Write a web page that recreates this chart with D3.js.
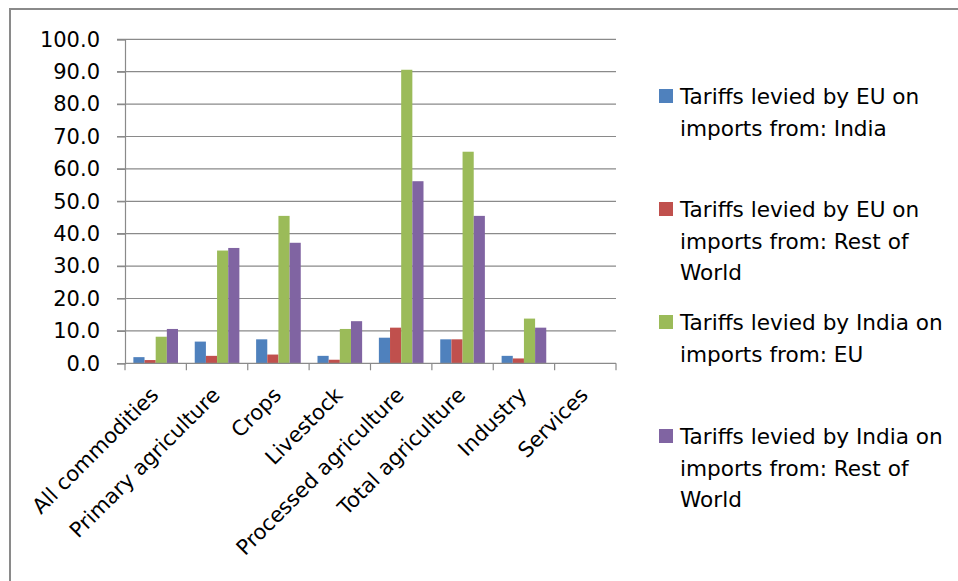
<!DOCTYPE html>
<html>
<head>
<meta charset="utf-8">
<script src="https://cdn.jsdelivr.net/npm/d3@7"></script>
<style>
  html, body { margin: 0; padding: 0; background: #fff; }
  svg { display: block; }
  text { font-family: "DejaVu Sans", sans-serif; fill: #000; }
</style>
</head>
<body>
<svg id="chart" width="958" height="581"></svg>
<script>
// Average tariffs by commodity group (%)
const categories = [
  "All commodities", "Primary agriculture", "Crops", "Livestock",
  "Processed agriculture", "Total agriculture", "Industry", "Services"
];
const seriesNames = [
  "Tariffs levied by EU on imports from: India",
  "Tariffs levied by EU on imports from: Rest of World",
  "Tariffs levied by India on imports from: EU",
  "Tariffs levied by India on imports from: Rest of World"
];
const euOnIndia   = [1.9, 6.7, 7.4, 2.3, 7.9, 7.4, 2.3, 0];
const euOnRoW     = [1.0, 2.3, 2.7, 1.1, 11.0, 7.4, 1.5, 0];
const indiaOnEU   = [8.2, 34.8, 45.5, 10.6, 90.6, 65.3, 13.8, 0];
const indiaOnRoW  = [10.6, 35.6, 37.2, 13.0, 56.2, 45.5, 11.0, 0];
const yTickValues = [0, 10, 20, 30, 40, 50, 60, 70, 80, 90, 100];

// Legend text broken into lines as shown
const legendLines = [
  ["Tariffs levied by EU on", "imports from: India"],
  ["Tariffs levied by EU on", "imports from: Rest of", "World"],
  ["Tariffs levied by India on", "imports from: EU"],
  ["Tariffs levied by India on", "imports from: Rest of", "World"]
];
const colors = ["#4F81BD", "#C0504D", "#9BBB59", "#8064A2"];

const seriesValues = [euOnIndia, euOnRoW, indiaOnEU, indiaOnRoW];
const rows = categories.map((c, i) => ({
  category: c,
  values: seriesValues.map((s, k) => ({ key: k, value: s[i] }))
}));

const svg = d3.select("#chart");
const gridColor = "#8a8a8a";

// outer frame of the chart area
svg.append("rect")
  .attr("x", 10).attr("y", 9)
  .attr("width", 1000).attr("height", 700)
  .attr("fill", "none")
  .attr("stroke", "#8a8a8a")
  .attr("stroke-width", 2);

const plot = { left: 125, right: 616, top: 39.3, bottom: 363.3 };

const x0 = d3.scaleBand()
  .domain(categories)
  .range([plot.left, plot.right])
  .paddingInner(0).paddingOuter(0);

const x1 = d3.scaleBand()
  .domain(d3.range(seriesNames.length))
  .range([0, x0.bandwidth()])
  .paddingInner(0).paddingOuter(0.75);

const y = d3.scaleLinear()
  .domain([0, 100])
  .range([plot.bottom, plot.top]);

// horizontal gridlines
svg.append("g")
  .selectAll("line")
  .data(yTickValues.filter(v => v > 0))
  .join("line")
  .attr("x1", plot.left - 8).attr("x2", plot.right)
  .attr("y1", d => y(d)).attr("y2", d => y(d))
  .attr("stroke", gridColor).attr("stroke-width", 1.2);

// y axis
const yAxis = d3.axisLeft(y)
  .tickValues(yTickValues)
  .tickFormat(d3.format(".1f"))
  .tickSize(8)
  .tickPadding(17);
const gy = svg.append("g")
  .attr("transform", `translate(${plot.left},0)`)
  .call(yAxis);
gy.select(".domain").attr("stroke", gridColor).attr("stroke-width", 1.2);
gy.selectAll(".tick line").attr("stroke", gridColor).attr("stroke-width", 1.2);
gy.selectAll(".tick text")
  .attr("font-family", "DejaVu Sans")
  .attr("font-size", 21)
  .attr("fill", "#000");

// bars
svg.append("g")
  .selectAll("g")
  .data(rows)
  .join("g")
  .attr("transform", d => `translate(${x0(d.category)},0)`)
  .selectAll("rect")
  .data(d => d.values)
  .join("rect")
  .attr("x", d => x1(d.key))
  .attr("width", x1.bandwidth())
  .attr("y", d => y(d.value))
  .attr("height", d => y(0) - y(d.value))
  .attr("fill", d => colors[d.key]);

// x axis with boundary ticks between categories
const gx = svg.append("g")
  .attr("transform", `translate(0,${plot.bottom})`);
gx.append("line")
  .attr("x1", plot.left).attr("x2", plot.right)
  .attr("stroke", gridColor).attr("stroke-width", 1.2);
const boundaries = categories.map(c => x0(c) + x0.bandwidth()).concat([plot.left]);
gx.selectAll("line.tick")
  .data(boundaries)
  .join("line")
  .attr("class", "tick")
  .attr("x1", d => d).attr("x2", d => d)
  .attr("y1", 0).attr("y2", 7)
  .attr("stroke", gridColor).attr("stroke-width", 1.2);

// rotated category labels
gx.selectAll("text")
  .data(categories)
  .join("text")
  .attr("transform", d => `translate(${x0(d) + x0.bandwidth() / 2 + 4},33) rotate(-45)`)
  .attr("text-anchor", "end")
  .attr("font-size", 21)
  .text(d => d);

// legend
const legend = svg.append("g");
const itemTop = [97, 210, 323, 437];
const lineGap = 31.5;
legendLines.forEach((lines, i) => {
  const g = legend.append("g").attr("transform", `translate(0,${itemTop[i]})`);
  g.append("rect")
    .attr("x", 659).attr("y", -8)
    .attr("width", 14).attr("height", 14)
    .attr("fill", colors[i]);
  const t = g.append("text")
    .attr("x", 680)
    .attr("y", 7)
    .attr("font-size", 21.6);
  lines.forEach((ln, j) => {
    t.append("tspan")
      .attr("x", 680)
      .attr("y", 7 + j * lineGap)
      .text(ln);
  });
});
</script>
</body>
</html>
